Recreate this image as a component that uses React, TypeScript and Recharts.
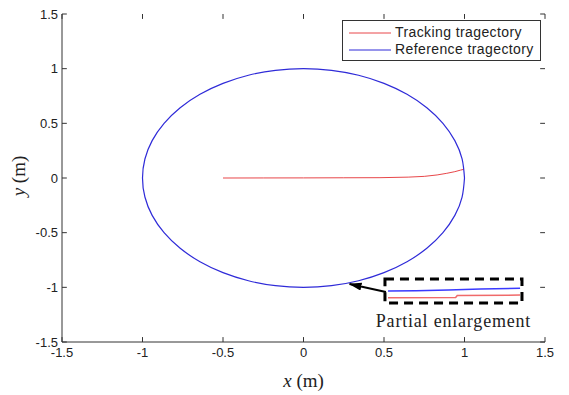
import React from 'react';
import { LineChart, Line, XAxis, YAxis, ReferenceArea, ReferenceLine, Legend, Label } from 'recharts';

// Axis ticks
const xTicks = [-1.5, -1, -0.5, 0, 0.5, 1, 1.5];
const yTicks = [-1.5, -1, -0.5, 0, 0.5, 1, 1.5];
const xDomain = [-1.5, 1.5];
const yDomain = [-1.5, 1.5];

// Reference trajectory (circle, 10° steps)
const refX = [1, 0.985, 0.94, 0.866, 0.766, 0.643, 0.5, 0.342, 0.174, 0, -0.174, -0.342, -0.5, -0.643, -0.766, -0.866, -0.94, -0.985, -1, -0.985, -0.94, -0.866, -0.766, -0.643, -0.5, -0.342, -0.174, 0, 0.174, 0.342, 0.5, 0.643, 0.766, 0.866, 0.94, 0.985, 1];
const refY = [0, 0.174, 0.342, 0.5, 0.643, 0.766, 0.866, 0.94, 0.985, 1, 0.985, 0.94, 0.866, 0.766, 0.643, 0.5, 0.342, 0.174, 0, -0.174, -0.342, -0.5, -0.643, -0.766, -0.866, -0.94, -0.985, -1, -0.985, -0.94, -0.866, -0.766, -0.643, -0.5, -0.342, -0.174, 0];

// Tracking trajectory
const trackX = [-0.5, -0.25, 0, 0.25, 0.475, 0.65, 0.75, 0.83, 0.89, 0.94, 0.975, 0.997];
const trackY = [0, 0.0005, 0.001, 0.002, 0.003, 0.008, 0.015, 0.028, 0.043, 0.058, 0.072, 0.08];

// Partial enlargement inset
const boxX = [0.506, 1.357];
const boxY = [-1.144, -0.924];
const insetBlueX = [0.525, 0.7, 0.9, 1.1, 1.345];
const insetBlueY = [-1.034, -1.031, -1.024, -1.016, -1.008];
const insetRedX = [0.525, 0.945, 0.955, 1.345];
const insetRedY = [-1.095, -1.093, -1.074, -1.071];
const arrowX = [0.512, 0.286];
const arrowY = [-1.043, -0.97];

const seriesNames = ['Tracking tragectory', 'Reference tragectory'];
const seriesColors = ['#e8474a', '#2f2bd8'];

// inward tick length in data units (≈5px)
const xTickLen = 0.03;
const yTickLen = 0.045;

const zip = (xs: number[], ys: number[]) => xs.map((x, i) => ({ x, y: ys[i] }));

const refData = zip(refX, refY);
const trackData = zip(trackX, trackY);
const insetBlue = zip(insetBlueX, insetBlueY);
const insetRed = zip(insetRedX, insetRedY);
const arrowData = zip(arrowX, arrowY);

const tickFont = '"Liberation Sans", Arial, sans-serif';
const tickStyle = { fill: '#222', fontSize: 13, fontFamily: tickFont };
const frameColor = '#333';

const XLabel = (props: any) => {
  const vb = props.viewBox || {};
  const cx = vb.x + vb.width / 2;
  return (
    <text x={cx} y={vb.y + 45} textAnchor="middle" fontFamily='"Liberation Serif", "Times New Roman", serif' fontSize={19} fill="#222">
      <tspan fontStyle="italic">x</tspan> (m)
    </text>
  );
};

const YLabel = (props: any) => {
  const vb = props.viewBox || {};
  const cy = vb.y + vb.height / 2 - 2;
  const x = 25;
  return (
    <text x={x} y={cy} transform={`rotate(-90, ${x}, ${cy})`} textAnchor="middle" fontFamily='"Liberation Serif", "Times New Roman", serif' fontSize={19} fill="#222">
      <tspan fontStyle="italic">y</tspan> (m)
    </text>
  );
};

const renderLegend = (props: any) => {
  const payload = props.payload || [];
  const items = seriesNames
    .map((n) => payload.find((p: any) => p.value === n))
    .filter(Boolean);
  return (
    <div
      style={{
        boxSizing: 'border-box',
        width: 199,
        height: 41,
        border: '1px solid #333',
        background: '#fff',
        padding: '3px 4px 1px 6px',
        fontFamily: tickFont,
        fontSize: 14,
        letterSpacing: '0.4px',
        color: '#222',
        lineHeight: '17px',
      }}
    >
      {items.map((it: any) => (
        <div key={it.value} style={{ display: 'flex', alignItems: 'center', height: 17, whiteSpace: 'nowrap' }}>
          <svg width={42} height={10} style={{ display: 'block' }}>
            <line x1={0} y1={5} x2={42} y2={5} stroke={it.color} strokeWidth={1} />
          </svg>
          <span style={{ marginLeft: 4 }}>{it.value}</span>
        </div>
      ))}
    </div>
  );
};

export default function App() {
  const tickSegs: any[] = [];
  xTicks.forEach((t, i) => {
    tickSegs.push(
      <ReferenceLine key={`xb${i}`} segment={[{ x: t, y: yDomain[0] }, { x: t, y: yDomain[0] + yTickLen }]} stroke={frameColor} strokeWidth={1} ifOverflow="visible" />
    );
    tickSegs.push(
      <ReferenceLine key={`xt${i}`} segment={[{ x: t, y: yDomain[1] }, { x: t, y: yDomain[1] - yTickLen }]} stroke={frameColor} strokeWidth={1} ifOverflow="visible" />
    );
  });
  yTicks.forEach((t, i) => {
    tickSegs.push(
      <ReferenceLine key={`yl${i}`} segment={[{ x: xDomain[0], y: t }, { x: xDomain[0] + xTickLen, y: t }]} stroke={frameColor} strokeWidth={1} ifOverflow="visible" />
    );
    tickSegs.push(
      <ReferenceLine key={`yr${i}`} segment={[{ x: xDomain[1], y: t }, { x: xDomain[1] - xTickLen, y: t }]} stroke={frameColor} strokeWidth={1} ifOverflow="visible" />
    );
  });

  return (
    <div style={{ position: 'absolute', left: 0, top: 0, width: 569, height: 395, background: '#fff' }}>
      <svg width={0} height={0} style={{ position: 'absolute' }}>
        <defs>
          <marker id="arrowHead" markerUnits="userSpaceOnUse" markerWidth={14} markerHeight={10} refX={12} refY={4} orient="auto">
            <path d="M0,0 L13,4 L0,8 z" fill="#000" />
          </marker>
        </defs>
      </svg>
      <LineChart width={569} height={395} margin={{ top: 14, right: 24, left: 0, bottom: 0 }}>
        <XAxis
          dataKey="x"
          type="number"
          domain={xDomain}
          ticks={xTicks}
          interval={0}
          height={53}
          tickLine={false}
          tickSize={0}
          tickMargin={6}
          tick={tickStyle}
          fontSize={13}
          fontFamily={tickFont}
          stroke={frameColor}
          allowDataOverflow
          label={<Label content={XLabel} />}
        />
        <XAxis
          xAxisId="top"
          orientation="top"
          type="number"
          domain={xDomain}
          ticks={xTicks}
          height={0}
          tick={false}
          tickLine={false}
          stroke={frameColor}
          allowDataOverflow
        />
        <YAxis
          type="number"
          domain={yDomain}
          ticks={yTicks}
          interval={0}
          width={62}
          tickLine={false}
          tickSize={0}
          tickMargin={4}
          tick={tickStyle}
          fontSize={13}
          fontFamily={tickFont}
          stroke={frameColor}
          allowDataOverflow
          label={<Label content={YLabel} />}
        />
        <YAxis
          yAxisId="right"
          orientation="right"
          type="number"
          domain={yDomain}
          ticks={yTicks}
          width={0}
          tick={false}
          tickLine={false}
          stroke={frameColor}
          allowDataOverflow
        />
        {tickSegs}
        <ReferenceArea
          x1={boxX[0]}
          x2={boxX[1]}
          y1={boxY[0]}
          y2={boxY[1]}
          fill="none"
          fillOpacity={0}
          stroke="#000"
          strokeWidth={3}
          strokeDasharray="9 6"
          label={{
            value: 'Partial enlargement',
            position: 'bottom',
            offset: 11,
            fontSize: 18,
            letterSpacing: 0.8,
            fill: '#222',
            fontFamily: '"Liberation Serif", "Times New Roman", serif',
          }}
        />
        <Line
          data={trackData}
          dataKey="y"
          name={seriesNames[0]}
          type="linear"
          stroke={seriesColors[0]}
          strokeWidth={1}
          dot={false}
          activeDot={false}
          isAnimationActive={false}
        />
        <Line
          data={refData}
          dataKey="y"
          name={seriesNames[1]}
          type="natural"
          stroke={seriesColors[1]}
          strokeWidth={1.2}
          dot={false}
          activeDot={false}
          isAnimationActive={false}
        />
        <Line
          data={insetBlue}
          dataKey="y"
          name="insetBlue"
          legendType="none"
          type="linear"
          stroke="#3a3aff"
          strokeWidth={1.5}
          dot={false}
          activeDot={false}
          isAnimationActive={false}
        />
        <Line
          data={insetRed}
          dataKey="y"
          name="insetRed"
          legendType="none"
          type="linear"
          stroke="#f06a6a"
          strokeWidth={1.5}
          dot={false}
          activeDot={false}
          isAnimationActive={false}
        />
        <Line
          data={arrowData}
          dataKey="y"
          name="arrow"
          legendType="none"
          type="linear"
          stroke="#000"
          strokeWidth={2}
          markerEnd="url(#arrowHead)"
          dot={false}
          activeDot={false}
          isAnimationActive={false}
        />
        <Legend
          layout="vertical"
          align="center"
          verticalAlign="middle"
          content={renderLegend}
          wrapperStyle={{ left: 342, top: 20, width: 199, height: 41 }}
        />
      </LineChart>
    </div>
  );
}
